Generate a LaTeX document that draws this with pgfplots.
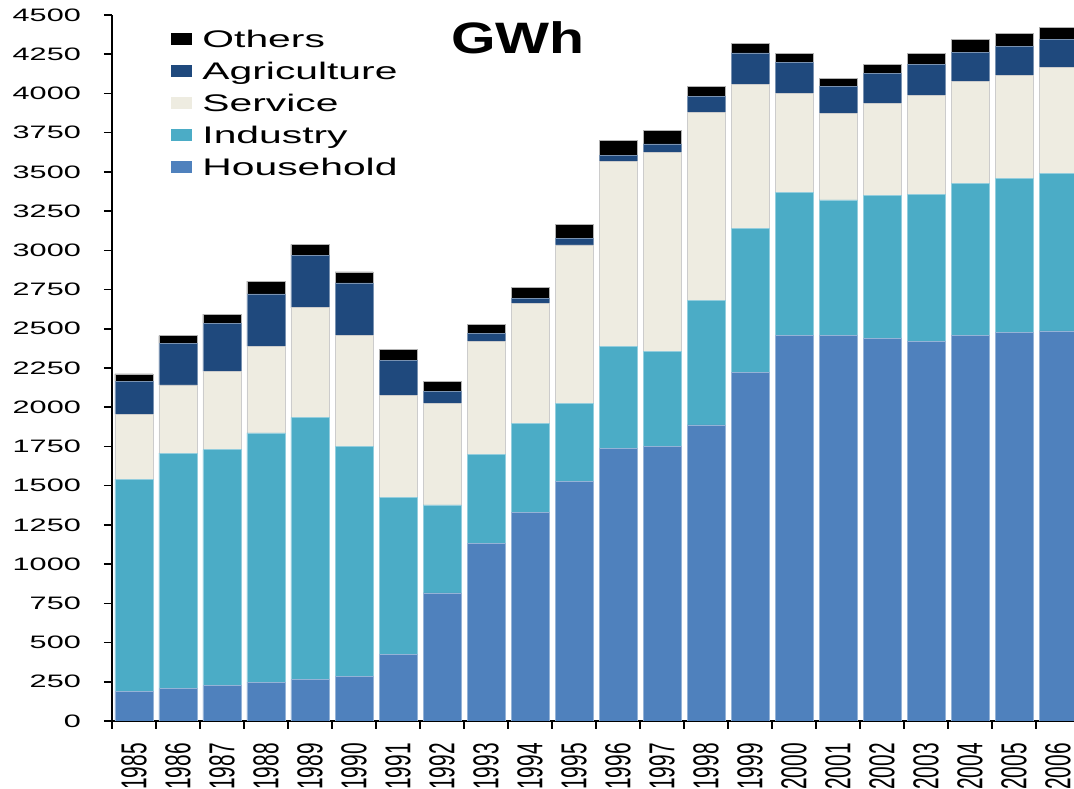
\documentclass[border=0pt]{standalone}
\usepackage{pgfplots}
\pgfplotsset{compat=1.18}
\usepackage{pgfplotstable}
\usepackage{fontspec}
\setmainfont{Liberation Sans}
\newfontfamily\tickfont{Liberation Sans}[FakeStretch=1.7]
\newfontfamily\yearfont{Liberation Sans}[FakeStretch=0.58]
\newfontfamily\titlefont{Liberation Sans}[FakeStretch=1.3]
\definecolor{hh}{HTML}{4F81BD}
\definecolor{ind}{HTML}{4BACC6}
\definecolor{ser}{HTML}{EEECE1}
\definecolor{agr}{HTML}{1F497D}
\definecolor{oth}{HTML}{000000}
\pgfplotstableread{
i  H     I     S     A    O
0  187   1355  413   208  49
1  206   1502  434   265  49
2  225   1504  500   306  59
3  247   1589  552   334  81
4  263   1673  698   336  68
5  282   1467  709   334  70
6  425   998   651   225  70
7  816   561   648   78   60
8  1133  567   718   51   59
9  1328  567   767   34   66
10 1525  497   1012  43   89
11 1736  650   1179  41   97
12 1751  607   1267  53   85
13 1887  794   1199  99   68
14 2220  922   916   200  63
15 2458  912   628   198  57
16 2458  863   550   176  49
17 2439  909   591   191  56
18 2420  939   629   198  70
19 2458  971   650   185  79
20 2477  980   659   186  79
21 2486  1003  677   179  76
}\data
\begin{document}
\begin{tikzpicture}
\path[use as bounding box] (-112pt,-68pt) rectangle (962pt,721pt);
\clip (-112pt,-68pt) rectangle (962pt,721pt);
\begin{axis}[
  at={(0pt,0pt)}, anchor=south west,
  scale only axis, width=962pt, height=706pt,
  ybar stacked, bar width=38pt,
  xmin=-0.5, xmax=21.3636, ymin=0, ymax=4500,
  axis lines=left, axis line style={-},
  x axis line style={line width=1.5pt},
  y axis line style={line width=2.5pt},
  ytick={0,250,...,4500},
  xtick={0,...,21},
  xticklabels={1985,1986,1987,1988,1989,1990,1991,1992,1993,1994,1995,1996,1997,1998,1999,2000,2001,2002,2003,2004,2005,2006},
  minor xtick={-0.5,0.5,...,21.5},
  major x tick style={draw=none},
  tick align=outside, major tick length=8pt, minor tick length=8pt,
  tick style={black, line width=1.5pt},
  /pgf/number format/1000 sep={},
  /pgf/number format/assume math mode=true,
  yticklabel style={font=\tickfont\fontsize{18}{20}\selectfont, anchor=east, inner sep=0pt, xshift=-23pt},
  xticklabel style={yshift=-14pt, font=\yearfont\fontsize{36}{38}\selectfont, rotate=90, anchor=east, inner sep=0pt},
  reverse legend,
  legend style={draw=none, fill=none, anchor=north west, at={(axis description cs:0.0613,0.978)},
    font=\tickfont\fontsize{24}{26}\selectfont, row sep=10pt, inner sep=0pt,
    nodes={inner sep=0pt, text height=17pt, text depth=5pt}},
  legend cell align=left,
  legend image code/.code={\fill[#1,draw=none] (0pt,-3pt) rectangle (21pt,9pt); \path (31pt,0pt);},
]
\addplot[fill=hh, draw=hh!60!white, line width=0.6pt] table[x=i,y=H]{\data};
\addplot[fill=ind, draw=ind!60!white, line width=0.6pt] table[x=i,y=I]{\data};
\addplot[fill=ser, draw=gray!40, line width=0.6pt] table[x=i,y=S]{\data};
\addplot[fill=agr, draw=agr!60!white, line width=0.6pt] table[x=i,y=A]{\data};
\addplot[fill=oth, draw=gray!60, line width=0.6pt] table[x=i,y=O]{\data};
\legend{Household,Industry,Service,Agriculture,Others}
\end{axis}
\node[anchor=base, font=\titlefont\bfseries\fontsize{44}{48}\selectfont, inner sep=0pt] at (406pt,667pt) {GWh};
\end{tikzpicture}
\end{document}
